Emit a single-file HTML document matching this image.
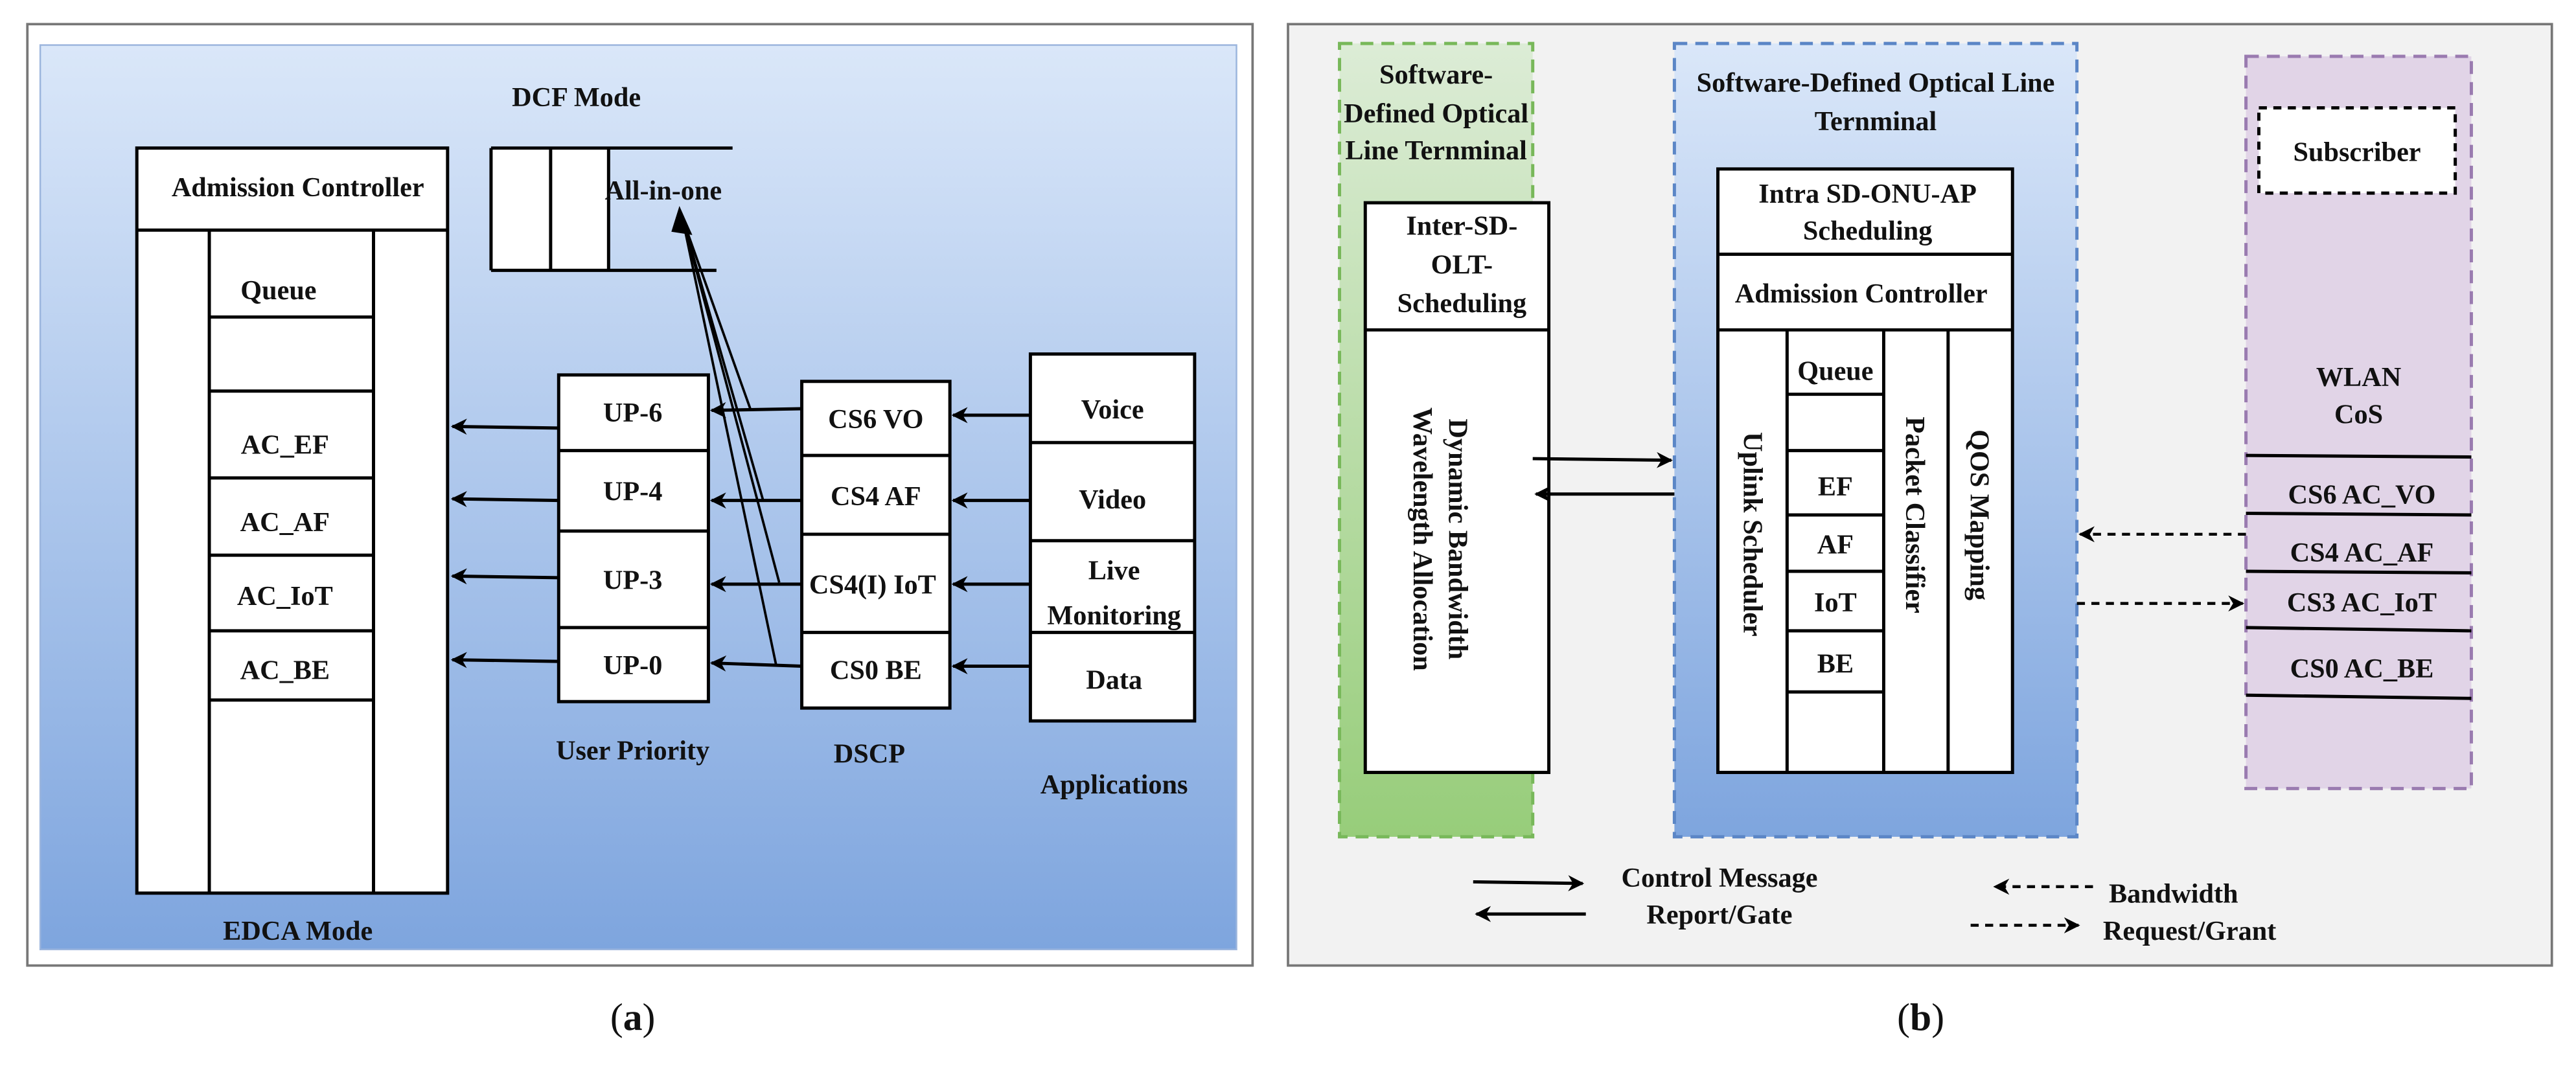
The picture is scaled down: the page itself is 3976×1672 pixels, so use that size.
<!DOCTYPE html>
<html><head><meta charset="utf-8"><style>
html,body{margin:0;padding:0;background:#fff;}
svg{display:block;}
text{font-family:"Liberation Serif",serif;font-weight:bold;fill:#111;}
</style></head><body>
<svg width="3976" height="1672" viewBox="0 0 1600 673" preserveAspectRatio="none" xmlns="http://www.w3.org/2000/svg">
<defs>
<linearGradient id="gb" x1="0" y1="0" x2="0" y2="1"><stop offset="0" stop-color="#dae7f9"/><stop offset="1" stop-color="#7ea5de"/></linearGradient>
<linearGradient id="gg" x1="0" y1="0" x2="0" y2="1"><stop offset="0" stop-color="#dcecd6"/><stop offset="1" stop-color="#97cd7a"/></linearGradient>
<marker id="ah" markerWidth="10" markerHeight="10" refX="9" refY="5" orient="auto" markerUnits="userSpaceOnUse"><path d="M0,0 L10,5 L0,10 L3,5 z" fill="#000"/></marker>
</defs>
<!-- Panel a -->
<rect x="17" y="15" width="761" height="585" fill="#fff" stroke="#777" stroke-width="1.5"/>
<rect x="25" y="28" width="743" height="562" fill="url(#gb)" stroke="#9bb5dd" stroke-width="1"/>
<text x="358" y="66" font-size="17" text-anchor="middle">DCF Mode</text>
<g stroke="#000" stroke-width="2" fill="#fff">
<rect x="85" y="92" width="193" height="463"/>
<line x1="85" y1="143" x2="278" y2="143"/>
<line x1="130" y1="143" x2="130" y2="555"/>
<line x1="232" y1="143" x2="232" y2="555"/>
<line x1="130" y1="197" x2="232" y2="197"/>
<line x1="130" y1="243" x2="232" y2="243"/>
<line x1="130" y1="297" x2="232" y2="297"/>
<line x1="130" y1="345" x2="232" y2="345"/>
<line x1="130" y1="392" x2="232" y2="392"/>
<line x1="130" y1="435" x2="232" y2="435"/>
</g>
<text x="185" y="122" font-size="17" text-anchor="middle">Admission Controller</text>
<text x="173" y="186" font-size="17" text-anchor="middle">Queue</text>
<text x="177" y="282" font-size="17" text-anchor="middle">AC_EF</text>
<text x="177" y="330" font-size="17" text-anchor="middle">AC_AF</text>
<text x="177" y="376" font-size="17" text-anchor="middle">AC_IoT</text>
<text x="177" y="422" font-size="17" text-anchor="middle">AC_BE</text>
<text x="185" y="584" font-size="17" text-anchor="middle">EDCA Mode</text>
<!-- DCF -->
<rect x="305" y="92" width="73" height="76" fill="#fff"/>
<g stroke="#000" stroke-width="2"><line x1="305" y1="92" x2="455" y2="92"/><line x1="305" y1="168" x2="445" y2="168"/><line x1="305" y1="92" x2="305" y2="168"/><line x1="342" y1="92" x2="342" y2="168"/><line x1="378" y1="92" x2="378" y2="168"/></g>
<text x="412" y="124" font-size="17" text-anchor="middle">All-in-one</text>
<!-- UP -->
<g stroke="#000" stroke-width="2" fill="#fff">
<rect x="347" y="233" width="93" height="203"/><line x1="347" y1="280" x2="440" y2="280"/><line x1="347" y1="330" x2="440" y2="330"/><line x1="347" y1="390" x2="440" y2="390"/>
<rect x="498" y="237" width="92" height="203"/><line x1="498" y1="283" x2="590" y2="283"/><line x1="498" y1="332" x2="590" y2="332"/><line x1="498" y1="393" x2="590" y2="393"/>
<rect x="640" y="220" width="102" height="228"/><line x1="640" y1="275" x2="742" y2="275"/><line x1="640" y1="336" x2="742" y2="336"/><line x1="640" y1="393" x2="742" y2="393"/>
</g>
<g font-size="17" text-anchor="middle">
<text x="393" y="262">UP-6</text><text x="393" y="311">UP-4</text><text x="393" y="366">UP-3</text><text x="393" y="419">UP-0</text>
<text x="544" y="266">CS6 VO</text><text x="544" y="314">CS4 AF</text><text x="542" y="369">CS4(I) IoT</text><text x="544" y="422">CS0 BE</text>
<text x="691" y="260">Voice</text><text x="691" y="316">Video</text><text x="692" y="360">Live</text><text x="692" y="388">Monitoring</text><text x="692" y="428">Data</text>
<text x="393" y="472">User Priority</text><text x="540" y="474">DSCP</text><text x="692" y="493">Applications</text>
</g>
<g stroke="#000" stroke-width="2" marker-end="url(#ah)">
<line x1="347" y1="266" x2="281" y2="265"/><line x1="347" y1="311" x2="281" y2="310"/><line x1="347" y1="359" x2="281" y2="358"/><line x1="347" y1="411" x2="281" y2="410"/>
<line x1="498" y1="254" x2="442" y2="255"/><line x1="498" y1="311" x2="442" y2="311"/><line x1="498" y1="363" x2="442" y2="363"/><line x1="498" y1="414" x2="442" y2="412"/>
<line x1="640" y1="258" x2="592" y2="258"/><line x1="640" y1="311" x2="592" y2="311"/><line x1="640" y1="363" x2="592" y2="363"/><line x1="640" y1="414" x2="592" y2="414"/>
</g>
<g stroke="#000" stroke-width="1.5">
<line x1="466" y1="254" x2="424" y2="136"/><line x1="474" y1="311" x2="424" y2="136"/><line x1="484" y1="362" x2="424" y2="136"/><line x1="482" y1="413" x2="424" y2="136"/>
</g>
<path d="M422,128 L430,146 L417,144 z" fill="#000"/>
<text x="393" y="640" font-size="24" font-weight="normal" text-anchor="middle" style="font-weight:normal">(<tspan font-weight="bold">a</tspan>)</text>
<!-- Panel b -->
<rect x="800" y="15" width="785" height="585" fill="#f2f2f2" stroke="#777" stroke-width="1.5"/>
<rect x="832" y="27" width="120" height="493" fill="url(#gg)" stroke="#78b85a" stroke-width="2" stroke-dasharray="8,5"/>
<rect x="1040" y="27" width="250" height="493" fill="url(#gb)" stroke="#5b86c6" stroke-width="2" stroke-dasharray="8,5"/>
<rect x="1395" y="35" width="140" height="455" fill="#e1d4e7" stroke="#9a7bb0" stroke-width="2" stroke-dasharray="8,5"/>
<g font-size="17" text-anchor="middle">
<text x="892" y="52">Software-</text><text x="892" y="76">Defined Optical</text><text x="892" y="99">Line Ternminal</text>
<text x="1165" y="57">Software-Defined Optical Line</text><text x="1165" y="81">Ternminal</text>
</g>
<g stroke="#000" stroke-width="2" fill="#fff">
<rect x="848" y="126" width="114" height="354"/><line x1="848" y1="205" x2="962" y2="205"/>
<rect x="1067" y="105" width="183" height="375"/><line x1="1067" y1="158" x2="1250" y2="158"/><line x1="1067" y1="205" x2="1250" y2="205"/>
<line x1="1110" y1="205" x2="1110" y2="480"/><line x1="1170" y1="205" x2="1170" y2="480"/><line x1="1210" y1="205" x2="1210" y2="480"/>
<line x1="1110" y1="245" x2="1170" y2="245"/><line x1="1110" y1="280" x2="1170" y2="280"/><line x1="1110" y1="320" x2="1170" y2="320"/><line x1="1110" y1="355" x2="1170" y2="355"/><line x1="1110" y1="392" x2="1170" y2="392"/><line x1="1110" y1="430" x2="1170" y2="430"/>
</g>
<g font-size="17" text-anchor="middle">
<text x="908" y="146">Inter-SD-</text><text x="908" y="170">OLT-</text><text x="908" y="194">Scheduling</text>
<text x="1160" y="126">Intra SD-ONU-AP</text><text x="1160" y="149">Scheduling</text>
<text x="1156" y="188">Admission Controller</text>
<text x="1140" y="236">Queue</text><text x="1140" y="308">EF</text><text x="1140" y="344">AF</text><text x="1140" y="380">IoT</text><text x="1140" y="418">BE</text>
<text transform="translate(900,335) rotate(90)">Dynamic Bandwidth</text>
<text transform="translate(878,335) rotate(90)">Wavelength Allocation</text>
<text transform="translate(1083,332) rotate(90)">Uplink Scheduler</text>
<text transform="translate(1184,320) rotate(90)">Packet Classifier</text>
<text transform="translate(1224,320) rotate(90)">QOS Mapping</text>
</g>
<rect x="1403" y="67" width="122" height="53" fill="#fff" stroke="#000" stroke-width="2" stroke-dasharray="5,4"/>
<g font-size="17" text-anchor="middle">
<text x="1464" y="100">Subscriber</text>
<text x="1465" y="240">WLAN</text><text x="1465" y="263">CoS</text>
<text x="1467" y="313">CS6  AC_VO</text><text x="1467" y="349">CS4  AC_AF</text><text x="1467" y="380">CS3  AC_IoT</text><text x="1467" y="421">CS0  AC_BE</text>
</g>
<g stroke="#000" stroke-width="2">
<line x1="1395" y1="283" x2="1535" y2="284"/><line x1="1395" y1="319" x2="1535" y2="320"/><line x1="1395" y1="355" x2="1535" y2="356"/><line x1="1395" y1="390" x2="1535" y2="392"/><line x1="1395" y1="432" x2="1535" y2="434"/>
</g>
<g stroke="#000" stroke-width="2" marker-end="url(#ah)">
<line x1="952" y1="285" x2="1038" y2="286"/><line x1="1040" y1="307" x2="954" y2="307"/>
<line x1="915" y1="548" x2="983" y2="549"/><line x1="985" y1="568" x2="917" y2="568"/>
</g>
<g stroke="#000" stroke-width="1.8" stroke-dasharray="5,4" marker-end="url(#ah)">
<line x1="1395" y1="332" x2="1292" y2="332"/><line x1="1290" y1="375" x2="1393" y2="375"/>
<line x1="1300" y1="551" x2="1239" y2="551"/><line x1="1224" y1="575" x2="1291" y2="575"/>
</g>
<g font-size="17" text-anchor="middle">
<text x="1068" y="551">Control Message</text><text x="1068" y="574">Report/Gate</text>
<text x="1350" y="561">Bandwidth</text><text x="1360" y="584">Request/Grant</text>
</g>
<text x="1193" y="640" font-size="24" text-anchor="middle" style="font-weight:normal">(<tspan font-weight="bold">b</tspan>)</text>
</svg>
</body></html>
